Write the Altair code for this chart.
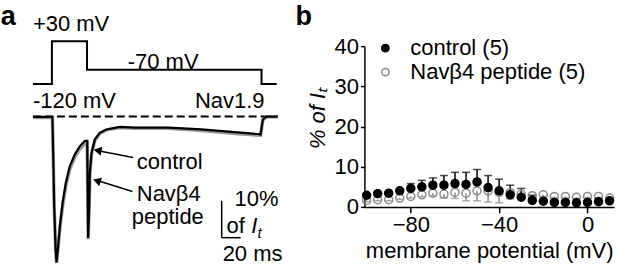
import altair as alt
import pandas as pd

FONT = "Liberation Sans"

# ---------------- panel b data ----------------
potential_mv = [-100, -95, -90, -85, -80, -75, -70, -65, -60, -55, -50, -45,
                -40, -35, -30, -25, -20, -15, -10, -5, 0, 5, 10]
control_mean = [2.9, 3.3, 3.4, 4.0, 4.6, 5.0, 5.4, 5.4, 5.8, 5.6, 6.2, 4.8,
                4.0, 3.0, 2.4, 1.6, 1.4, 1.1, 1.1, 1.0, 1.1, 1.3, 1.5]
control_sem = [0.3, 0.3, 0.3, 0.4, 1.2, 1.6, 1.8, 2.4, 2.8, 3.0, 3.1, 3.0,
               2.9, 2.4, 2.2, 1.3, 0.4, 0.3, 0.3, 0.3, 0.3, 0.3, 0.3]
peptide_mean = [1.6, 1.8, 1.8, 2.2, 2.6, 3.0, 3.4, 3.2, 3.6, 3.4, 4.0, 4.0,
                3.6, 3.6, 3.2, 2.8, 3.0, 2.6, 2.6, 2.4, 2.6, 2.6, 2.2]
peptide_sem = [0.3, 0.3, 0.3, 0.3, 0.4, 0.5, 0.6, 1.0, 1.5, 1.9, 2.5, 2.8,
               2.6, 1.6, 0.8, 0.4, 0.4, 0.3, 0.3, 0.3, 0.3, 0.3, 0.3]
series_labels = ["control (5)", "Navβ4 peptide (5)"]
x_ticks = [-80, -40, 0]
y_ticks = [0, 10, 20, 30, 40]

# ---------------- panel a data ----------------
protocol_ms = [-20, 0, 0, 37, 37, 221, 221, 237]
protocol_mv = [-120, -120, 30, 30, -70, -70, -120, -120]

control_trace_ms = [-20, 0.5, 1.4, 2.4, 3.9, 4.9, 6.6, 8.4, 11.3, 14.7, 18.9, 24.2,
                    29.5, 34.7, 37.2, 38.2, 39.3, 40.0, 41.8, 45.3, 50.5, 57.6,
                    71.6, 87.4, 122.4, 157.6, 192.6, 218.9, 220.0, 222.4, 226.0, 238.2]
control_trace_pct = [-0.1, -0.1, -10.7, -24.2, -35.9, -39.5, -35.0, -29.6, -23.3, -17.9,
                     -13.4, -10.2, -8.0, -6.6, -6.6, -32.8, -24.2, -15.2, -9.8, -6.2,
                     -4.4, -3.5, -2.8, -3.0, -3.0, -3.5, -4.2, -4.8, -4.9, -0.8, -0.05, -0.05]
peptide_trace_ms = control_trace_ms
peptide_trace_pct = [-0.3, -0.3, -10.9, -24.5, -36.1, -39.6, -35.5, -30.4, -24.2, -18.8,
                     -14.2, -10.9, -8.8, -7.4, -7.2, -33.2, -24.7, -15.5, -10.1, -6.4,
                     -4.6, -3.6, -3.0, -3.2, -3.2, -3.8, -4.6, -5.1, -5.1, -0.9, -0.1, -0.1]

baseline_ms = [-20, 237]
baseline_pct = 0

arrow_tail_ms = [85.6, 84.9]
arrow_tail_pct = [-11.1, -20.3]
arrow_tip_ms = [46.0, 45.3]
arrow_tip_pct = [-9.1, -17.1]
arrow_head_ms = [48.2, 47.4]
arrow_head_pct = [-9.2, -17.4]
arrow_angle = [11, 18]

scalebar_ms = [179, 199]
scalebar_pct = [-22.8, -32.8]

text_regular = ["+30 mV", "-70 mV", "-120 mV", "control", "Navβ4", "peptide",
                "10%", "of", "20 ms"]
text_regular_ms = [-20, 80, -20, 89.5, 89.5, 84.2, 192.6, 184.2, 180]
text_regular_pct = [23.1, 12.8, 2.3, -14.2, -22.8, -29.0, -24.2, -31.4, -39.05]

# ---------------- panel a ----------------
W_A, H_A = 296, 223
xa = alt.Scale(domain=[-54.74, 256.84], nice=False, zero=False)
ya = alt.Scale(domain=[-41.216, 19.054], nice=False, zero=False)
yv = alt.Scale(domain=[-765.3, 12.54], nice=False, zero=False)

def X(f):
    return alt.X(f, type="quantitative", scale=xa, axis=None)

def Y(f, s=ya):
    return alt.Y(f, type="quantitative", scale=s, axis=None)

prot_df = pd.DataFrame({"t": protocol_ms, "v": protocol_mv, "o": range(len(protocol_ms))})
protocol = alt.Chart(prot_df).mark_line(color="black", strokeWidth=2, clip=False).encode(
    x=X("t"), y=Y("v", yv), order="o:Q")

pep_df = pd.DataFrame({"t": peptide_trace_ms, "i": peptide_trace_pct, "o": range(len(peptide_trace_ms))})
pep_trace = alt.Chart(pep_df).mark_line(color="#9a9a9a", strokeWidth=3.4).encode(
    x=X("t"), y=Y("i"), order="o:Q")

ctl_df = pd.DataFrame({"t": control_trace_ms, "i": control_trace_pct, "o": range(len(control_trace_ms))})
ctl_trace = alt.Chart(ctl_df).mark_line(color="black", strokeWidth=2.2).encode(
    x=X("t"), y=Y("i"), order="o:Q")

base_df = pd.DataFrame({"t": [baseline_ms[0]], "t2": [baseline_ms[1]], "i": [baseline_pct]})
baseline = alt.Chart(base_df).mark_rule(color="black", strokeWidth=2, strokeDash=[8, 4]).encode(
    x=X("t"), x2="t2", y=Y("i"))

arr_df = pd.DataFrame({"t": arrow_tail_ms, "i": arrow_tail_pct,
                       "t2": arrow_tip_ms, "i2": arrow_tip_pct})
arrows = alt.Chart(arr_df).mark_rule(color="black", strokeWidth=1.5).encode(
    x=X("t"), y=Y("i"), x2="t2", y2="i2")

head_df = pd.DataFrame({"t": arrow_head_ms, "i": arrow_head_pct, "a": arrow_angle})
heads = alt.Chart(head_df).mark_point(shape="triangle-left", filled=True, color="black",
                                      size=80, opacity=1).encode(
    x=X("t"), y=Y("i"), angle=alt.Angle("a:Q", scale=None))

sb_df = pd.DataFrame({"t": [scalebar_ms[0], scalebar_ms[0]], "i": [scalebar_pct[0], scalebar_pct[1]],
                      "t2": [scalebar_ms[0], scalebar_ms[1]], "i2": [scalebar_pct[1], scalebar_pct[1]]})
scalebar = alt.Chart(sb_df).mark_rule(color="black", strokeWidth=1.5).encode(
    x=X("t"), y=Y("i"), x2="t2", y2="i2")

txt_df = pd.DataFrame({"t": text_regular_ms, "i": text_regular_pct, "label": text_regular})
texts = alt.Chart(txt_df).mark_text(align="left", baseline="alphabetic", font=FONT,
                                    fontSize=22, color="black").encode(
    x=X("t"), y=Y("i"), text="label:N")

nav_df = pd.DataFrame({"t": [224.2], "i": [2.3], "label": ["Nav1.9"]})
nav_text = alt.Chart(nav_df).mark_text(align="right", baseline="alphabetic", font=FONT,
                                       fontSize=22, color="black").encode(
    x=X("t"), y=Y("i"), text="label:N")

a_df = pd.DataFrame({"t": [-54.0], "i": [30.4], "label": ["a"]})
a_text = alt.Chart(a_df).mark_text(align="left", baseline="top", font=FONT,
                                   fontSize=27, fontWeight="bold", color="black").encode(
    x=X("t"), y=Y("i"), text="label:N")

it_df = pd.DataFrame({"t": [210.2], "i": [-31.4], "label": ["I"]})
it_text = alt.Chart(it_df).mark_text(align="left", baseline="alphabetic", font=FONT,
                                     fontSize=22, fontStyle="italic", color="black").encode(
    x=X("t"), y=Y("i"), text="label:N")
sub_df = pd.DataFrame({"t": [216.8], "i": [-32.9], "label": ["t"]})
sub_text = alt.Chart(sub_df).mark_text(align="left", baseline="alphabetic", font=FONT,
                                       fontSize=15, fontStyle="italic", color="black").encode(
    x=X("t"), y=Y("i"), text="label:N")

panel_a = alt.layer(protocol, baseline, pep_trace, ctl_trace, arrows, heads, scalebar,
                    texts, nav_text, a_text, it_text, sub_text).resolve_scale(
    y="independent").properties(width=W_A, height=H_A)

# ---------------- panel b ----------------
W_B, H_B = 250, 161
xb = alt.Scale(domain=[-101, 12], nice=False, zero=False)
yb = alt.Scale(domain=[0, 40], nice=False)

x_axis = alt.Axis(values=x_ticks, title="membrane potential (mV)", tickSize=6, tickWidth=1.5,
                  domainWidth=1.5, domainColor="black", tickColor="black", grid=False,
                  labelFont=FONT, labelFontSize=22, labelColor="black", labelPadding=2,
                  titleFont=FONT, titleFontSize=22, titleFontWeight="normal", titleColor="black",
                  titlePadding=5, labelFlush=False)
y_axis = alt.Axis(values=y_ticks, title="% of Iₜ", tickSize=4, tickWidth=1.5,
                  domainWidth=1.5, domainColor="black", tickColor="black", grid=False,
                  labelFont=FONT, labelFontSize=22, labelColor="black", labelPadding=2,
                  titleFont=FONT, titleFontSize=22, titleFontWeight="normal",
                  titleFontStyle="italic", titleColor="black", titlePadding=5, titleY=72)

ctl_b = pd.DataFrame({"v": potential_mv, "m": control_mean,
                      "e": [m + s for m, s in zip(control_mean, control_sem)]})
pep_b = pd.DataFrame({"v": potential_mv, "m": peptide_mean,
                      "e": [m - s for m, s in zip(peptide_mean, peptide_sem)]})

GREY = "#8c8c8c"
axes_layer = alt.Chart(ctl_b).mark_point(opacity=0).encode(
    x=alt.X("v:Q", scale=xb, axis=x_axis), y=alt.Y("m:Q", scale=yb, axis=y_axis))

pep_err = alt.Chart(pep_b).mark_rule(color=GREY, strokeWidth=1.5).encode(
    x=alt.X("v:Q", scale=xb), y=alt.Y("m:Q", scale=yb), y2="e")
pep_cap = alt.Chart(pep_b).mark_tick(color=GREY, orient="horizontal", size=8, thickness=1.5).encode(
    x=alt.X("v:Q", scale=xb), y=alt.Y("e:Q", scale=yb))
ctl_err = alt.Chart(ctl_b).mark_rule(color="black", strokeWidth=1.5).encode(
    x=alt.X("v:Q", scale=xb), y=alt.Y("m:Q", scale=yb), y2="e")
ctl_cap = alt.Chart(ctl_b).mark_tick(color="black", orient="horizontal", size=8, thickness=1.5).encode(
    x=alt.X("v:Q", scale=xb), y=alt.Y("e:Q", scale=yb))

pts = pd.concat([
    pd.DataFrame({"v": potential_mv, "m": peptide_mean, "series": series_labels[1]}),
    pd.DataFrame({"v": potential_mv, "m": control_mean, "series": series_labels[0]}),
], ignore_index=True)
leg = alt.Legend(title=None, orient="none", legendX=10, legendY=-9, labelFont=FONT,
                 labelFontSize=22, labelColor="black", symbolSize=55, symbolStrokeWidth=1.5,
                 labelOffset=14, rowPadding=2, padding=0, symbolType="circle", labelLimit=400)
points = alt.Chart(pts).mark_point(size=64, strokeWidth=1.5, opacity=1).encode(
    x=alt.X("v:Q", scale=xb),
    y=alt.Y("m:Q", scale=yb),
    stroke=alt.Stroke("series:N", scale=alt.Scale(domain=series_labels, range=["black", GREY]),
                      legend=leg),
    fill=alt.Fill("series:N", scale=alt.Scale(domain=series_labels, range=["black", "transparent"]),
                  legend=leg),
)

b_df = pd.DataFrame({"label": ["b"]})
b_text = alt.Chart(b_df).mark_text(align="left", baseline="top", font=FONT, fontSize=27,
                                   fontWeight="bold", color="black").encode(
    x=alt.value(-69), y=alt.value(-42), text="label:N")

panel_b = alt.layer(axes_layer, pep_err, pep_cap, ctl_err, ctl_cap, points, b_text).properties(
    width=W_B, height=H_B)

chart = alt.hconcat(panel_a, panel_b, spacing=0).resolve_legend(
    stroke="independent", fill="independent").properties(
    padding={"left": 0, "right": 0, "top": 3, "bottom": 0}).configure_view(stroke=None)
chart.save("out.html", embed_options={"renderer": "svg", "actions": False})
